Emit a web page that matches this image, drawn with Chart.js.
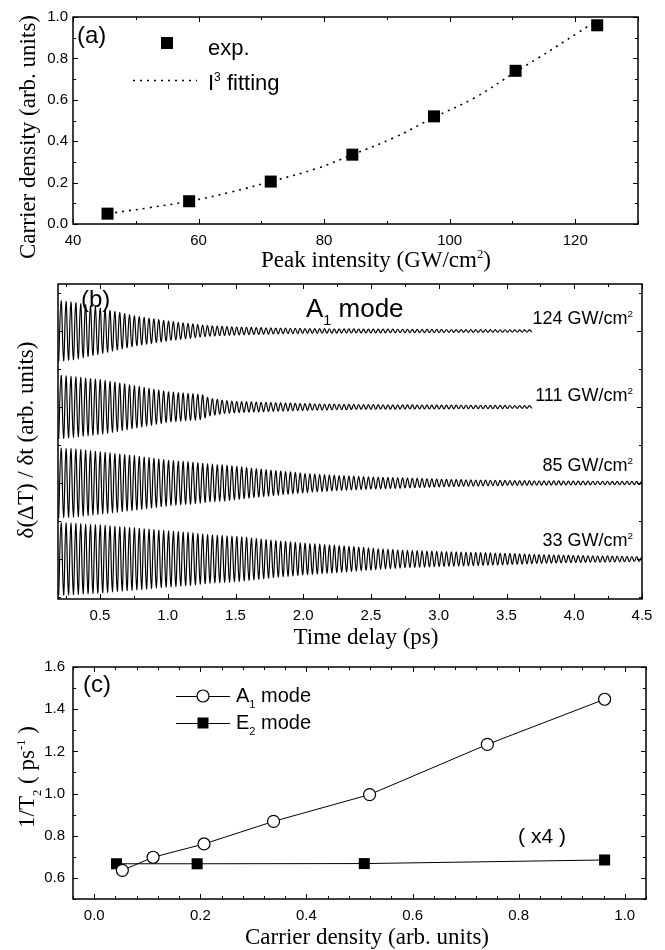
<!DOCTYPE html>
<html lang="en">
<head>
  <meta charset="UTF-8" />
  <title>Carrier density and A1 / E2 dephasing</title>
  <script src="https://cdn.jsdelivr.net/npm/chart.js"></script>
  <style>
    body { margin: 0; background: #fff; }
    canvas { position: absolute; left: 0; }
    #chartA { top: 0; }
    #chartB { top: 272px; }
    #chartC { top: 650px; }
  </style>
</head>
<body>
  <canvas id="chartA" width="665" height="272"></canvas>
  <canvas id="chartB" width="665" height="378"></canvas>
  <canvas id="chartC" width="665" height="300"></canvas>

  <script>
// (a) carrier density vs peak intensity
const peakIntensity = [45.5, 58.5, 71.5, 84.5, 97.5, 110.5, 123.5];
const carrierDensity = [0.05, 0.11, 0.205, 0.335, 0.52, 0.74, 0.96];
const fitIntensity = [46.7, 52, 58.5, 65, 71.5, 79, 84.5, 91, 97.5, 104, 110.5, 114, 120.5, 123.5];
const fitDensity = [0.055, 0.078, 0.11, 0.153, 0.205, 0.27, 0.335, 0.415, 0.515, 0.61, 0.735, 0.80, 0.925, 0.985];
const aTicksX = [40, 60, 80, 100, 120];
const aTicksY = [0, 0.2, 0.4, 0.6, 0.8, 1.0];

// (b) derivative traces, one per pump intensity (offset by 1 unit each)
const traceLabels = ['124', '111', '85', '33'];
const traceBaseline = [3, 2, 1, 0];
const traceEnd = [3.7, 3.7, 4.5, 4.5];
const oscPeriod = 0.036; // ps, read from the fringe spacing
// oscillation half-amplitude at these delays
const envTime = [0.2, 0.3, 0.4, 0.5, 0.6, 0.75, 1.0, 1.15, 1.25, 1.3, 1.4, 1.5, 1.75, 2.0, 2.25, 2.5, 2.75, 3.0, 3.25, 3.5, 3.7, 4.0, 4.25, 4.5];
const env124 = [0.40, 0.38, 0.34, 0.30, 0.26, 0.20, 0.13, 0.10, 0.08, 0.07, 0.06, 0.053, 0.04, 0.033, 0.028, 0.025, 0.022, 0.02, 0.018, 0.016, 0.015, 0.015, 0.015, 0.015];
const env111 = [0.42, 0.40, 0.38, 0.36, 0.33, 0.28, 0.20, 0.18, 0.165, 0.12, 0.09, 0.075, 0.058, 0.045, 0.036, 0.031, 0.027, 0.025, 0.022, 0.02, 0.018, 0.018, 0.018, 0.018];
const env85 = [0.46, 0.45, 0.43, 0.41, 0.39, 0.36, 0.30, 0.28, 0.26, 0.25, 0.24, 0.22, 0.17, 0.13, 0.10, 0.08, 0.066, 0.05, 0.04, 0.033, 0.03, 0.025, 0.022, 0.02];
const env33 = [0.48, 0.47, 0.46, 0.45, 0.43, 0.41, 0.37, 0.35, 0.33, 0.32, 0.31, 0.30, 0.25, 0.21, 0.18, 0.145, 0.115, 0.10, 0.088, 0.075, 0.06, 0.045, 0.04, 0.03];
const envelopes = [env124, env111, env85, env33];
const bTicksX = [0.5, 1.0, 1.5, 2.0, 2.5, 3.0, 3.5, 4.0, 4.5];

// (c) dephasing rate vs carrier density
const a1Density = [0.053, 0.111, 0.207, 0.338, 0.519, 0.741, 0.962];
const a1Rate = [0.636, 0.698, 0.761, 0.868, 0.995, 1.233, 1.447];
const e2Density = [0.042, 0.194, 0.509, 0.962];
const e2Rate = [0.667, 0.667, 0.668, 0.685];
const cTicksX = [0, 0.2, 0.4, 0.6, 0.8, 1.0];
const cTicksY = [0.6, 0.8, 1.0, 1.2, 1.4, 1.6];

Chart.defaults.font.family = '"Liberation Sans", Arial, sans-serif';
Chart.defaults.color = '#000';

const SANS = '"Liberation Sans", Arial, sans-serif';
const SERIF = '"Liberation Serif", "Times New Roman", serif';

function envelopeAt(env, t) {
  let i = 0;
  while (i < envTime.length - 2 && t > envTime[i + 1]) i++;
  const f = (t - envTime[i]) / (envTime[i + 1] - envTime[i]);
  return env[i] + f * (env[i + 1] - env[i]);
}

// turning points of each trace, alternating about its baseline
function traceData(k) {
  const pts = [];
  const half = oscPeriod / 2;
  for (let n = 0; 0.195 + n * half <= traceEnd[k]; n++) {
    const t = 0.195 + n * half;
    const sign = n % 2 === 0 ? -1 : 1;
    pts.push({ x: t, y: traceBaseline[k] + sign * envelopeAt(envelopes[k], t) });
  }
  return pts;
}

function pairs(xs, ys) {
  return xs.map((x, i) => ({ x: x, y: ys[i] }));
}

// texts (page coordinates, baseline) and legend marks for each panel
const decorations = {
  chartA: {
    top: 0,
    ticks: { x: { major: 20, minor: 10 }, y: { major: 0.2, minor: 0.1 } },
    texts: [
      { parts: ['(a)'], x: 77, y: 43, size: 24 },
      { parts: ['exp.'], x: 208, y: 55, size: 22 },
      { parts: ['I', { t: '3', k: 'sup' }, ' fitting'], x: 208, y: 90, size: 22 },
      { parts: ['Peak intensity (GW/cm', { t: '2', k: 'sup' }, ')'], x: 376, y: 267, size: 23, serif: true, align: 'center' },
      { parts: ['Carrier density (arb. units)'], x: 35, y: 137, size: 23, serif: true, align: 'center', rot: true }
    ],
    marks: [
      { type: 'square', x: 167, y: 43, size: 12 },
      { type: 'line', x1: 133, x2: 197, y: 80, dash: [2, 5] }
    ]
  },
  chartB: {
    top: 272,
    ticks: { x: { major: 0.5, minor: 0.25 }, y: { major: 1, minor: 0.5 } },
    texts: [
      { parts: ['(b)'], x: 81, y: 307, size: 24 },
      { parts: ['A', { t: '1', k: 'sub' }, ' mode'], x: 306, y: 317, size: 26 },
      { parts: ['124 GW/cm', { t: '2', k: 'sup' }], x: 633, y: 324, size: 18, align: 'right' },
      { parts: ['111 GW/cm', { t: '2', k: 'sup' }], x: 633, y: 401, size: 18, align: 'right' },
      { parts: ['85 GW/cm', { t: '2', k: 'sup' }], x: 633, y: 471, size: 18, align: 'right' },
      { parts: ['33 GW/cm', { t: '2', k: 'sup' }], x: 633, y: 546, size: 18, align: 'right' },
      { parts: ['Time delay (ps)'], x: 366, y: 644, size: 23, serif: true, align: 'center' },
      { parts: ['\u03b4(\u0394T) / \u03b4t (arb. units)'], x: 33, y: 440, size: 23, serif: true, align: 'center', rot: true }
    ],
    marks: []
  },
  chartC: {
    top: 650,
    ticks: { x: { major: 0.2, minor: 0.04 }, y: { major: 0.2, minor: 0.1 } },
    texts: [
      { parts: ['(c)'], x: 83, y: 692, size: 24 },
      { parts: ['A', { t: '1', k: 'sub' }, ' mode'], x: 236, y: 702, size: 20 },
      { parts: ['E', { t: '2', k: 'sub' }, ' mode'], x: 236, y: 729, size: 20 },
      { parts: ['( x4 )'], x: 542, y: 843, size: 21, align: 'center' },
      { parts: ['Carrier density (arb. units)'], x: 367, y: 944, size: 23, serif: true, align: 'center' },
      { parts: ['1/T', { t: '2', k: 'sub' }, ' ( ps', { t: '-1', k: 'sup' }, ' )'], x: 34, y: 777, size: 23, serif: true, align: 'center', rot: true }
    ],
    marks: [
      { type: 'line', x1: 176, x2: 230, y: 696 },
      { type: 'circle', x: 203, y: 696, r: 6 },
      { type: 'line', x1: 176, x2: 230, y: 723 },
      { type: 'square', x: 203, y: 723, size: 11 }
    ]
  }
};

function drawRich(ctx, item, top) {
  const size = item.size;
  const fam = item.serif ? SERIF : SANS;
  const segs = item.parts.map(p => {
    const kind = typeof p === 'string' ? '' : p.k;
    const text = typeof p === 'string' ? p : p.t;
    const s = kind ? size * 0.55 : size;
    ctx.font = s + 'px ' + fam;
    const dy = kind === 'sub' ? size * 0.32 : kind === 'sup' ? -size * 0.4 : 0;
    return { text: text, s: s, dy: dy, w: ctx.measureText(text).width };
  });
  const total = segs.reduce((a, b) => a + b.w, 0);
  ctx.save();
  ctx.translate(item.x, item.y - top);
  if (item.rot) ctx.rotate(-Math.PI / 2);
  let x = item.align === 'center' ? -total / 2 : item.align === 'right' ? -total : 0;
  ctx.textAlign = 'left';
  ctx.textBaseline = 'alphabetic';
  ctx.fillStyle = '#000';
  segs.forEach(s => {
    ctx.font = s.s + 'px ' + fam;
    ctx.fillText(s.text, x, s.dy);
    x += s.w;
  });
  ctx.restore();
}

// frame with inward ticks on all four sides, plus panel texts
const panelDecor = {
  id: 'panelDecor',
  afterDraw(chart) {
    const deco = decorations[chart.canvas.id];
    const { ctx, chartArea: a, scales } = chart;
    ctx.save();
    ctx.strokeStyle = '#000';
    ctx.lineWidth = 1;
    ['x', 'y'].forEach(id => {
      const s = scales[id];
      const t = deco.ticks[id];
      const first = Math.ceil(s.min / t.minor - 1e-6);
      for (let k = first; k * t.minor <= s.max + 1e-9; k++) {
        const v = k * t.minor;
        const isMajor = Math.abs(v / t.major - Math.round(v / t.major)) < 1e-6;
        const len = isMajor ? 5 : 3;
        const p = Math.round(s.getPixelForValue(v)) + 0.5;
        ctx.beginPath();
        if (id === 'x') {
          ctx.moveTo(p, a.bottom); ctx.lineTo(p, a.bottom - len);
          ctx.moveTo(p, a.top); ctx.lineTo(p, a.top + len);
        } else {
          ctx.moveTo(a.left, p); ctx.lineTo(a.left + len, p);
          ctx.moveTo(a.right, p); ctx.lineTo(a.right - len, p);
        }
        ctx.stroke();
      }
    });
    ctx.lineWidth = 1.5;
    ctx.strokeRect(a.left, a.top, a.right - a.left, a.bottom - a.top);

    deco.marks.forEach(m => {
      ctx.save();
      ctx.strokeStyle = '#000';
      ctx.fillStyle = '#000';
      if (m.type === 'line') {
        ctx.lineWidth = m.dash ? 1.5 : 1;
        ctx.setLineDash(m.dash || []);
        ctx.beginPath();
        ctx.moveTo(m.x1, m.y - deco.top + 0.5);
        ctx.lineTo(m.x2, m.y - deco.top + 0.5);
        ctx.stroke();
      } else if (m.type === 'square') {
        ctx.fillRect(m.x - m.size / 2, m.y - deco.top - m.size / 2, m.size, m.size);
      } else if (m.type === 'circle') {
        ctx.fillStyle = '#fff';
        ctx.lineWidth = 1.2;
        ctx.beginPath();
        ctx.arc(m.x, m.y - deco.top, m.r, 0, Math.PI * 2);
        ctx.fill();
        ctx.stroke();
      }
      ctx.restore();
    });
    deco.texts.forEach(item => drawRich(ctx, item, deco.top));
    ctx.restore();
  }
};

function axis(min, max, tickValues, opts) {
  return {
    type: 'linear',
    min: min,
    max: max,
    grid: { display: false, drawTicks: false },
    border: { display: false },
    afterBuildTicks: s => { s.ticks = tickValues.map(v => ({ value: v })); },
    afterFit: s => {
      if (opts.width !== undefined) s.width = opts.width;
      if (opts.height !== undefined) s.height = opts.height;
    },
    ticks: {
      display: opts.labels !== false,
      autoSkip: false,
      maxRotation: 0,
      padding: opts.padding || 8,
      font: { size: 15, family: SANS },
      color: '#000',
      callback: opts.fmt || (v => v)
    }
  };
}

const baseOptions = (pad, xScale, yScale) => ({
  responsive: false,
  animation: false,
  events: [],
  layout: { padding: pad },
  plugins: { legend: { display: false }, tooltip: { enabled: false } },
  scales: { x: xScale, y: yScale }
});

// panel (a)
new Chart(document.getElementById('chartA'), {
  type: 'line',
  data: {
    datasets: [
      {
        label: 'exp.',
        data: pairs(peakIntensity, carrierDensity),
        showLine: false,
        pointStyle: 'rect',
        pointRadius: 8.5,
        backgroundColor: '#000',
        borderColor: '#000',
        borderWidth: 0
      },
      {
        label: 'I3 fitting',
        data: pairs(fitIntensity, fitDensity),
        borderColor: '#000',
        borderWidth: 1.6,
        borderDash: [2, 5],
        pointRadius: 0,
        tension: 0.4
      }
    ]
  },
  options: baseOptions(
    { top: 17, right: 27, left: 0, bottom: 0 },
    axis(40, 130, aTicksX, { height: 48, padding: 8 }),
    axis(0, 1, aTicksY, { width: 73, padding: 5, fmt: v => v.toFixed(1) })
  ),
  plugins: [panelDecor]
});

// panel (b)
new Chart(document.getElementById('chartB'), {
  type: 'line',
  data: {
    datasets: traceLabels.map((lab, k) => ({
      label: lab + ' GW/cm2',
      data: traceData(k),
      borderColor: '#000',
      borderWidth: 1.2,
      pointRadius: 0,
      tension: 0.4
    }))
  },
  options: baseOptions(
    { top: 12, right: 23, left: 0, bottom: 0 },
    axis(0.19, 4.5, bTicksX, { height: 51, padding: 8, fmt: v => v.toFixed(1) }),
    axis(-0.526, 3.618, [], { width: 58, labels: false })
  ),
  plugins: [panelDecor]
});

// panel (c)
new Chart(document.getElementById('chartC'), {
  type: 'line',
  data: {
    datasets: [
      {
        label: 'A1 mode',
        data: pairs(a1Density, a1Rate),
        borderColor: '#000',
        borderWidth: 1,
        pointStyle: 'circle',
        pointRadius: 6,
        pointBorderWidth: 1.2,
        pointBackgroundColor: '#fff',
        pointBorderColor: '#000'
      },
      {
        label: 'E2 mode',
        data: pairs(e2Density, e2Rate),
        borderColor: '#000',
        borderWidth: 1,
        pointStyle: 'rect',
        pointRadius: 7.8,
        pointBorderWidth: 0,
        pointBackgroundColor: '#000'
      }
    ]
  },
  options: baseOptions(
    { top: 12, right: 19, left: 0, bottom: 0 },
    axis(-0.04, 1.04, cTicksX, { height: 51, padding: 8, fmt: v => v.toFixed(1) }),
    axis(0.5, 1.6, cTicksY, { width: 73, padding: 8, fmt: v => v.toFixed(1) })
  ),
  plugins: [panelDecor]
});
  </script>
</body>
</html>
